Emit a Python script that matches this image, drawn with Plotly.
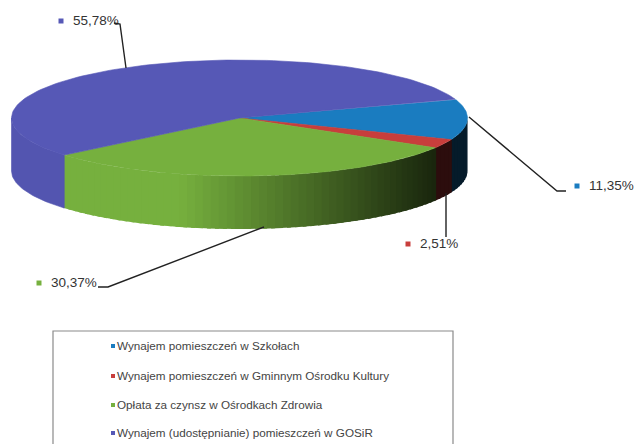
import numpy as np
import plotly.graph_objects as go

categories = ["Wynajem pomieszczeń w Szkołach",
              "Wynajem pomieszczeń w Gminnym Ośrodku Kultury",
              "Opłata za czynsz w Ośrodkach Zdrowia",
              "Wynajem (udostępnianie) pomieszczeń w GOSiR"]
values = [11.35, 2.51, 30.37, 55.78]
value_labels = ["11,35%", "2,51%", "30,37%", "55,78%"]
colors = [(26, 124, 192), (200, 62, 60), (118, 176, 62), (86, 88, 182)]

W, H = 636, 444
CX, CY, RX, RY, DEPTH = 239.5, 118, 228, 58, 53
START = 19.0


def rgb(c, k=1.0):
    return "rgb(%d,%d,%d)" % tuple(int(v * k) for v in c)


def arc(a0, a1, n=80, dy=0):
    t = np.radians(np.linspace(a0, a1, n))
    return CX + RX * np.cos(t), CY + dy - RY * np.sin(t)


def shade(x):
    t = (x - 67) / (440 - 67)
    if t < 0.3:
        return 1.0
    return max(0.22, 1.0 - (t - 0.3) / 0.7 * 0.8)


fig = go.Figure()


def poly(xs, ys, color, lw=0.6):
    fig.add_trace(go.Scatter(x=xs, y=ys, mode="lines", fill="toself", fillcolor=color,
                             line=dict(color=color, width=lw), hoverinfo="skip",
                             showlegend=False))


# slice angles, clockwise from the start angle
edges = START - np.cumsum([0] + values) * 3.6

# side wall: only the front half (0..-180 degrees) is visible
for i, c in enumerate(colors):
    a0, a1 = min(edges[i], 0), max(edges[i + 1], -180)
    if a0 <= a1:
        continue
    if i == 3:
        x, y = arc(a0, a1, 40)
        xb, yb = arc(a1, a0, 40, DEPTH)
        poly(np.r_[x, xb, x[0]], np.r_[y, yb, y[0]], rgb(c, 0.97))
        continue
    steps = max(2, int((a0 - a1) / 2))
    grid = np.linspace(a0, a1, steps + 1)
    for g0, g1 in zip(grid[:-1], grid[1:]):
        x, y = arc(g0 + 0.5, g1 - 0.5, 6)
        xb, yb = arc(g1 - 0.5, g0 + 0.5, 6, DEPTH)
        poly(np.r_[x, xb, x[0]], np.r_[y, yb, y[0]], rgb(c, shade((x[0] + x[-1]) / 2)), 0)

# top face
for i, c in enumerate(colors):
    x, y = arc(edges[i], edges[i + 1], 120)
    poly(np.r_[CX, x, CX], np.r_[CY, y, CY], rgb(c))

# value labels with their colour keys
label_x = [589, 420, 51, 73]
label_y = [187, 245, 284, 22]
fig.add_trace(go.Scatter(x=[v - 12 for v in label_x], y=[v - 1 for v in label_y], mode="markers",
                         marker=dict(symbol="square", size=5, color=[rgb(c) for c in colors]),
                         hoverinfo="skip", showlegend=False))
fig.add_trace(go.Scatter(x=label_x, y=label_y, mode="text", text=value_labels,
                         textposition="middle right",
                         textfont=dict(family="Liberation Sans", size=13.5, color="#333333"),
                         hoverinfo="skip", showlegend=False))

# legend drawn as a box with keys
legend_y = [347, 377, 406, 434]
fig.add_trace(go.Scatter(x=[113] * 4, y=[v - 1 for v in legend_y], mode="markers",
                         marker=dict(symbol="square", size=4, color=[rgb(c) for c in colors]),
                         hoverinfo="skip", showlegend=False))
fig.add_trace(go.Scatter(x=[117] * 4, y=legend_y, mode="text", text=categories,
                         textposition="middle right",
                         textfont=dict(family="Liberation Sans", size=11.7, color="#444444"),
                         hoverinfo="skip", showlegend=False))

leaders = [
    ([469, 557, 566], [117, 191, 191]),
    ([446, 446], [193, 237]),
    ([264, 108, 98], [227, 287, 287]),
    ([114, 120, 126], [23, 24, 68]),
]
shapes = [dict(type="rect", x0=53, x1=453, y0=331, y1=460, layer="below",
               line=dict(color="#8a8a8a", width=1.2), fillcolor="white")]
for xs, ys in leaders:
    fig.add_trace(go.Scatter(x=xs, y=ys, mode="lines", line=dict(color="#222222", width=1.4),
                             hoverinfo="skip", showlegend=False))

fig.update_layout(width=W, height=H, margin=dict(l=0, r=0, t=0, b=0),
                  paper_bgcolor="white", plot_bgcolor="white", shapes=shapes,
                  xaxis=dict(range=[0, W], visible=False, fixedrange=True),
                  yaxis=dict(range=[H, 0], visible=False, fixedrange=True))
fig.write_html("out.html", config=dict(displayModeBar=False),
               post_script="document.body.style.margin='0';document.documentElement.style.overflow='hidden';")
